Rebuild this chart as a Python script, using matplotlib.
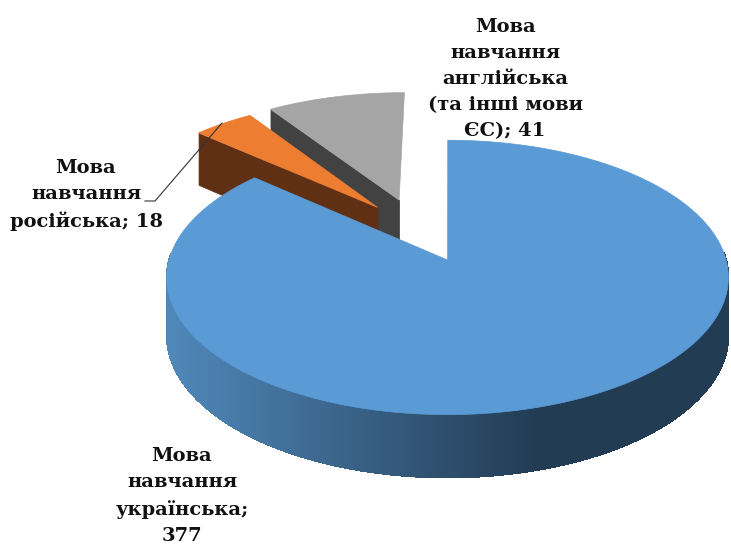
import numpy as np
import matplotlib
matplotlib.use("Agg")
import matplotlib.pyplot as plt
from matplotlib.collections import PolyCollection
from matplotlib.colors import to_rgb

# --- Data ---
labels = ["Мова\nнавчання\nукраїнська;\n377",
          "Мова\nнавчання\nросійська; 18",
          "Мова\nнавчання\nанглійська\n(та інші мови\nЄС); 41"]
values = [377, 18, 41]

# --- Styles ---
top_colors = ["#5b9bd5", "#ed7d31", "#a5a5a5"]
side_colors = ["#223c54", "#5f3014", "#424242"]
explode = [(-0.005, 0.0), (-0.27, 0.41), (-0.19, 0.471)]   # slice shift in pie plane
label_pos = [(182, 496), (86, 195), (505, 79)]

# --- Projection of the pie plane to pixels ---
cx, cy = 449, 260
ax_x, ax_y = 278.5, 135
persp = 0.127
wall = 57


def project(u, v):
    s = 1 / (1 + persp * v)
    return cx + ax_x * u * s, cy - ax_y * v * s, wall * s ** 0.72


def arc_points(start, end, shift):
    t = np.radians(np.linspace(start, end, max(int(end - start) * 3, 2)))
    return shift[0] + np.sin(t), shift[1] + np.cos(t)


def wall_quads(u, v):
    x, y, h = project(u, v)
    quads = []
    for i in range(len(x) - 1):
        quads.append([(x[i], y[i]), (x[i + 1], y[i + 1]),
                      (x[i + 1], y[i + 1] + h[i + 1]), (x[i], y[i] + h[i])])
    return quads, x


fig = plt.figure(figsize=(7.31, 5.44), dpi=100)
ax = fig.add_axes([0, 0, 1, 1])
ax.set_xlim(0, 731)
ax.set_ylim(544, 0)
ax.axis("off")

# slice angles, clockwise from 12 o'clock
angles = np.cumsum([0] + values) / sum(values) * 360

# draw back to front: gray, orange, blue
for i in [2, 1, 0]:
    start, end = angles[i], angles[i + 1]
    u, v = arc_points(start, end, explode[i])
    du, dv = explode[i]

    if i == 0:
        # outer wall of the big slice, only the part facing the viewer
        front = v < 0.05
        quads, x = wall_quads(u[front], v[front])
        light = np.array(to_rgb("#5088ba"))
        dark = np.array(to_rgb(side_colors[0]))
        mids = (x[:-1] + x[1:]) / 2
        f = np.clip((mids - 168) / (535 - 168), 0, 1)[:, None]
        cols = light * (1 - f) + dark * f
        ax.add_collection(PolyCollection(quads, facecolors=cols, edgecolors=cols,
                                         linewidths=0.6, antialiased=False))
    else:
        # radial wall on the left side of the slice
        quads, x = wall_quads(np.array([du, u[0]]), np.array([dv, v[0]]))
        ax.add_collection(PolyCollection(quads, facecolors=side_colors[i],
                                         edgecolors=side_colors[i], linewidths=0.5))

    x, y, h = project(np.r_[du, u], np.r_[dv, v])
    ax.fill(x, y, color=top_colors[i], lw=0.5)

# --- Labels ---
for text, (tx, ty) in zip(labels, label_pos):
    ax.text(tx, ty, text, ha="center", va="center", family="DejaVu Serif",
            fontweight="bold", fontsize=14, linespacing=1.58, color="#111111")

# leader line of the small slice
ax.plot([145, 155, 222], [201, 201, 123], color="#333333", lw=0.8)

fig.savefig("out.png", dpi=100)
